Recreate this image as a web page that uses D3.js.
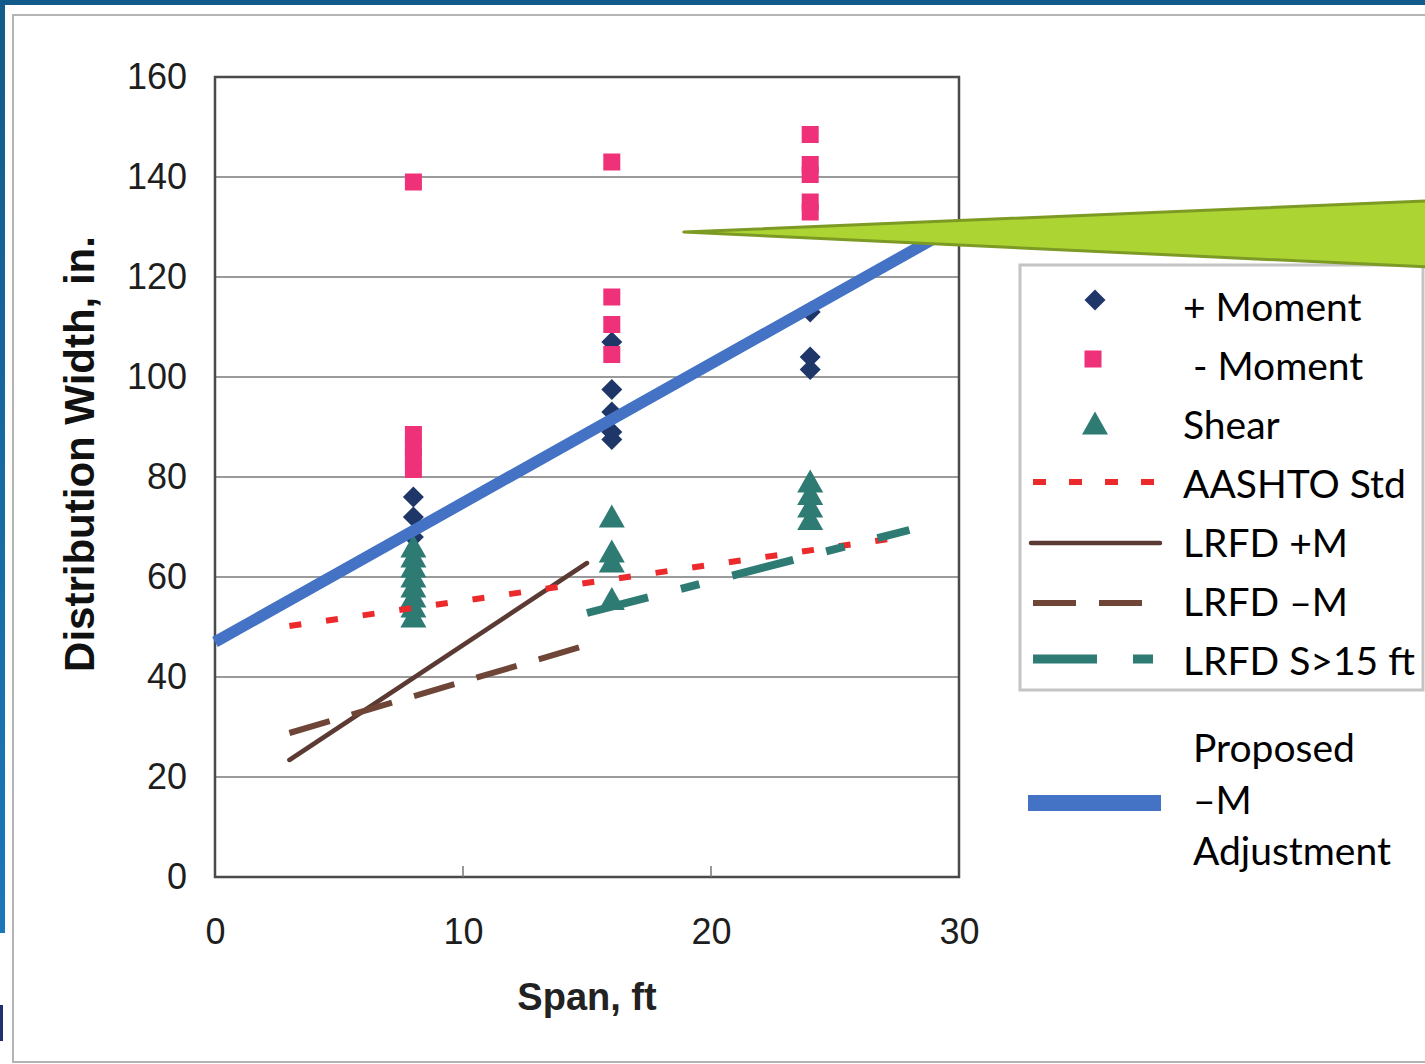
<!DOCTYPE html>
<html>
<head>
<meta charset="utf-8">
<script src="https://cdn.jsdelivr.net/npm/d3@7"></script>
<style>
  body { margin: 0; background: #fff; }
  svg { display: block; }
</style>
</head>
<body>
<script>
// data
var yTicks = [0, 20, 40, 60, 80, 100, 120, 140, 160];
var xTicks = [0, 10, 20, 30];

var posMomentSpan = [8, 8, 8, 16, 16, 16, 16, 16, 24, 24, 24];
var posMomentVal  = [76, 72, 68, 107, 97.5, 93, 89, 87.5, 113, 104, 101.5];

var negMomentSpan = [8, 8, 8, 8, 8, 16, 16, 16, 16, 24, 24, 24, 24, 24];
var negMomentVal  = [139, 88.5, 86, 84, 81.5, 143, 116, 110.5, 104.5, 148.5, 142.5, 140.5, 135, 133];

var shearSpan = [8, 8, 8, 8, 8, 8, 8, 8, 16, 16, 16, 16, 24, 24, 24, 24];
var shearVal  = [66, 64, 62, 60, 58, 56, 54, 52, 72, 65, 63, 55.5, 79, 76.5, 74, 71.5];

var aashtoSpan = [3, 28],  aashtoVal = [50.2, 68.2];
var lrfdPosSpan = [3, 15], lrfdPosVal = [23.4, 62.8];
var lrfdNegSpan = [3, 15], lrfdNegVal = [28.8, 46.4];
var lrfdS15Span = [15, 28], lrfdS15Val = [52.8, 69.4];
var proposedSpan = [0, 30], proposedVal = [47, 130.5];

// callout (span, width) corners
var calloutSpan = [18.9, 48.9, 48.9];
var calloutVal  = [129, 135.2, 122];

var W = 1425, H = 1064;
var svg = d3.select("body").append("svg").attr("width", W).attr("height", H);

// slide frame
svg.append("rect").attr("x", 0).attr("y", 0).attr("width", W).attr("height", 5).attr("fill", "#135b8a");
var grad = svg.append("defs").append("linearGradient").attr("id", "lb").attr("x1", 0).attr("y1", 0).attr("x2", 0).attr("y2", 1);
grad.append("stop").attr("offset", "0%").attr("stop-color", "#135b8a");
grad.append("stop").attr("offset", "100%").attr("stop-color", "#1a78ba");
svg.append("rect").attr("x", 0).attr("y", 0).attr("width", 5).attr("height", 933).attr("fill", "url(#lb)");
svg.append("rect").attr("x", 0).attr("y", 1005).attr("width", 3).attr("height", 36).attr("fill", "#24306c");
svg.append("rect").attr("x", 13).attr("y", 15).attr("width", 1440).attr("height", 1047)
    .attr("fill", "#fff").attr("stroke", "#b4b4b4").attr("stroke-width", 2);

var x = d3.scaleLinear().domain([0, 30]).range([215, 959]);
var y = d3.scaleLinear().domain([0, 160]).range([877, 77]);

var tickFont = "'Liberation Sans', Arial, sans-serif";

// grid
svg.append("g").selectAll("line").data(yTicks).join("line")
    .attr("x1", x(0)).attr("x2", x(30))
    .attr("y1", function(d) { return y(d); }).attr("y2", function(d) { return y(d); })
    .attr("stroke", "#9a9a9a").attr("stroke-width", 2);

// plot box
svg.append("rect").attr("x", x(0)).attr("y", y(160)).attr("width", x(30) - x(0)).attr("height", y(0) - y(160))
    .attr("fill", "none").attr("stroke", "#4a4a4a").attr("stroke-width", 2.5);

// x axis (inner ticks)
var xAxis = d3.axisBottom(x).tickValues(xTicks).tickSize(0).tickPadding(41);
var gx = svg.append("g").attr("transform", "translate(0," + y(0) + ")").call(xAxis);
gx.select(".domain").remove();
gx.selectAll("text").attr("font-family", tickFont).attr("font-size", 36).attr("fill", "#1e1e1e");
svg.append("g").selectAll("line").data([10, 20]).join("line")
    .attr("x1", function(d) { return x(d); }).attr("x2", function(d) { return x(d); })
    .attr("y1", y(0)).attr("y2", y(0) - 11)
    .attr("stroke", "#777").attr("stroke-width", 1.5);

// y axis
var yAxis = d3.axisLeft(y).tickValues(yTicks).tickSize(0).tickPadding(28);
var gy = svg.append("g").attr("transform", "translate(" + x(0) + ",0)").call(yAxis);
gy.select(".domain").remove();
gy.selectAll("text").attr("font-family", tickFont).attr("font-size", 36).attr("fill", "#1e1e1e");

// titles
svg.append("text").attr("x", 587).attr("y", 1010).attr("text-anchor", "middle")
    .attr("font-family", tickFont).attr("font-weight", "bold").attr("font-size", 38).attr("fill", "#222")
    .text("Span, ft");
svg.append("text").attr("transform", "translate(94,454) rotate(-90)").attr("text-anchor", "middle")
    .attr("font-family", tickFont).attr("font-weight", "bold").attr("font-size", 42).attr("fill", "#111")
    .text("Distribution Width, in.");

// markers
function diamond(cx, cy) { return "M" + cx + "," + (cy - 10.5) + "L" + (cx + 10.5) + "," + cy + "L" + cx + "," + (cy + 10.5) + "L" + (cx - 10.5) + "," + cy + "Z"; }
function tri(cx, cy) { return "M" + cx + "," + (cy - 12.5) + "L" + (cx + 13) + "," + (cy + 10.5) + "L" + (cx - 13) + "," + (cy + 10.5) + "Z"; }

var navy = "#1f3768", pink = "#ee3178", teal = "#2e7b74";

svg.append("g").selectAll("path").data(posMomentVal).join("path")
    .attr("d", function(d, i) { return diamond(x(posMomentSpan[i]), y(d)); })
    .attr("fill", navy);
svg.append("g").selectAll("rect").data(negMomentVal).join("rect")
    .attr("x", function(d, i) { return x(negMomentSpan[i]) - 8.5; })
    .attr("y", function(d) { return y(d) - 8.5; })
    .attr("width", 17).attr("height", 17).attr("fill", pink);
svg.append("g").selectAll("path").data(shearVal).join("path")
    .attr("d", function(d, i) { return tri(x(shearSpan[i]), y(d)); })
    .attr("fill", teal);

// lines
function drawLine(sp, vals, color, width, dash, cap) {
  var pts = sp.map(function(s, i) { return [s, vals[i]]; });
  var line = d3.line().x(function(d) { return x(d[0]); }).y(function(d) { return y(d[1]); });
  var p = svg.append("path").attr("d", line(pts)).attr("fill", "none")
      .attr("stroke", color).attr("stroke-width", width).attr("stroke-linecap", cap || "butt");
  if (dash) p.attr("stroke-dasharray", dash);
  return p;
}
drawLine(lrfdPosSpan, lrfdPosVal, "#5a3a32", 4.5, null, "round");
drawLine(lrfdNegSpan, lrfdNegVal, "#6e4536", 6, "42,23");
drawLine(aashtoSpan, aashtoVal, "#ec2a2c", 6, "12,25");
drawLine(lrfdS15Span, lrfdS15Val, teal, 8, "63,34,19,34");
drawLine(proposedSpan, proposedVal, "#4472c4", 11.5);

// legend
var lg = svg.append("g");
lg.append("rect").attr("x", 1020).attr("y", 265).attr("width", 403).attr("height", 425)
    .attr("fill", "#fff").attr("stroke", "#c4c4c4").attr("stroke-width", 3);
var legFont = "Lato, 'Open Sans', sans-serif";
var legLabels = ["+ Moment", " - Moment", "Shear", "AASHTO Std", "LRFD +M", "LRFD \u2013M", "LRFD S>15 ft"];
lg.selectAll("text.l").data(legLabels).join("text").attr("class", "l")
    .attr("x", 1183).attr("y", function(d, i) { return 321 + i * 59; })
    .attr("font-family", legFont).attr("font-size", 39).attr("fill", "#000")
    .attr("xml:space", "preserve").style("white-space", "pre")
    .text(function(d) { return d; });
lg.append("path").attr("d", diamond(1095, 300)).attr("fill", navy);
lg.append("rect").attr("x", 1084.5).attr("y", 350.5).attr("width", 17).attr("height", 17).attr("fill", pink);
lg.append("path").attr("d", tri(1095, 424)).attr("fill", teal);
lg.append("line").attr("x1", 1033).attr("x2", 1158).attr("y1", 482).attr("y2", 482)
    .attr("stroke", "#ec2a2c").attr("stroke-width", 6).attr("stroke-dasharray", "13,23");
lg.append("line").attr("x1", 1031).attr("x2", 1160).attr("y1", 543).attr("y2", 543)
    .attr("stroke", "#5a3a32").attr("stroke-width", 4.5).attr("stroke-linecap", "round");
lg.append("line").attr("x1", 1033).attr("x2", 1143).attr("y1", 603).attr("y2", 603)
    .attr("stroke", "#6e4536").attr("stroke-width", 6).attr("stroke-dasharray", "43,23");
lg.append("line").attr("x1", 1033).attr("x2", 1153).attr("y1", 659).attr("y2", 659)
    .attr("stroke", teal).attr("stroke-width", 9).attr("stroke-dasharray", "64,36,20,36");

// proposed entry outside the box
lg.append("line").attr("x1", 1028).attr("x2", 1161).attr("y1", 803).attr("y2", 803)
    .attr("stroke", "#4472c4").attr("stroke-width", 16);
lg.selectAll("text.p").data(["Proposed", "\u2013M", "Adjustment"]).join("text").attr("class", "p")
    .attr("x", 1193).attr("y", function(d, i) { return 762 + i * 51.5; })
    .attr("font-family", legFont).attr("font-size", 39).attr("fill", "#000")
    .text(function(d) { return d; });

// green callout
var cPts = calloutSpan.map(function(s, i) { return [x(s), y(calloutVal[i])]; });
svg.append("path").attr("d", "M" + cPts.map(function(p) { return p.join(","); }).join("L") + "Z")
    .attr("fill", "#acd433").attr("stroke", "#7d9a24").attr("stroke-width", 3).attr("stroke-linejoin", "round");
</script>
</body>
</html>
